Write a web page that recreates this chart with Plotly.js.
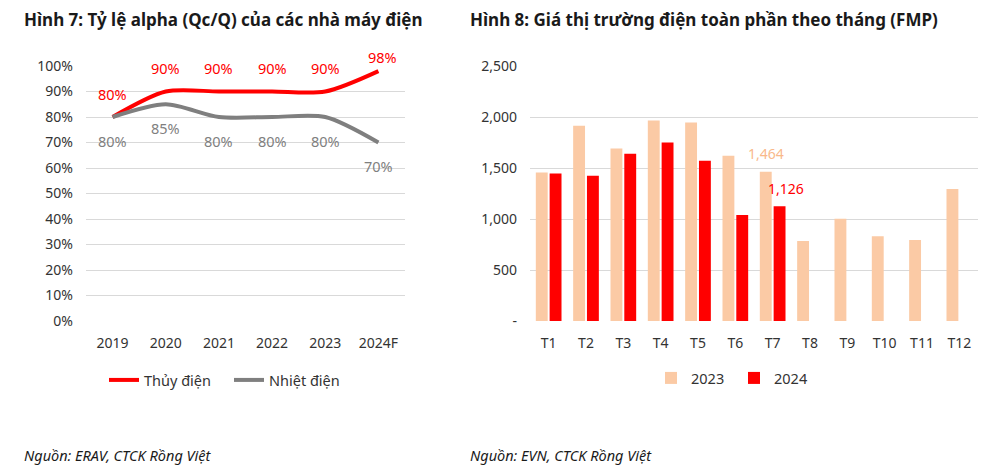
<!DOCTYPE html>
<html>
<head>
<meta charset="utf-8">
<script src="https://cdn.plot.ly/plotly-3.0.1.min.js"></script>
<style>
  html, body { margin: 0; padding: 0; background: #fff; }
  #chart { width: 991px; height: 468px; }
</style>
</head>
<body>
<div id="chart"></div>
<script>
// Hình 7 - alpha ratio
const years = ["2019", "2020", "2021", "2022", "2023", "2024F"];
const thuyDien = [0.80, 0.90, 0.90, 0.90, 0.90, 0.98];
const nhietDien = [0.80, 0.85, 0.80, 0.80, 0.80, 0.70];
const pctTicks = [0, 0.1, 0.2, 0.3, 0.4, 0.5, 0.6, 0.7, 0.8, 0.9, 1.0];
const pctTickText = ["0%", "10%", "20%", "30%", "40%", "50%", "60%", "70%", "80%", "90%", "100%"];

// Hình 8 - FMP by month
const months = ["T1", "T2", "T3", "T4", "T5", "T6", "T7", "T8", "T9", "T10", "T11", "T12"];
const fmp2023 = [1455, 1915, 1692, 1965, 1945, 1620, 1464, 785, 1002, 832, 795, 1295];
const fmp2024 = [1445, 1425, 1640, 1750, 1570, 1040, 1126];
const fmpTicks = [0, 500, 1000, 1500, 2000, 2500];
const fmpTickText = ["-", "500", "1,000", "1,500", "2,000", "2,500"];

const RED = "#ff0000";
const GRAY = "#7f7f7f";
const PEACH = "#fbcaa5";
const FONT = "Noto Sans, sans-serif";

const pct = v => Math.round(v * 100) + "%";

const traces = [
    {
        x: years, y: thuyDien,
        type: "scatter", mode: "lines",
        name: "Thủy điện",
        line: { color: RED, width: 4, shape: "spline", smoothing: 0.8 },
        xaxis: "x", yaxis: "y", legend: "legend",
        hoverinfo: "skip"
    },
    {
        x: years, y: nhietDien,
        type: "scatter", mode: "lines",
        name: "Nhiệt điện",
        line: { color: GRAY, width: 4, shape: "spline", smoothing: 0.8 },
        xaxis: "x", yaxis: "y", legend: "legend",
        hoverinfo: "skip"
    },
    {
        x: months, y: fmp2023,
        type: "bar", name: "2023",
        marker: { color: PEACH },
        xaxis: "x2", yaxis: "y2", legend: "legend2",
        hoverinfo: "skip"
    },
    {
        x: months.slice(0, fmp2024.length), y: fmp2024,
        type: "bar", name: "2024",
        marker: { color: RED },
        xaxis: "x2", yaxis: "y2", legend: "legend2",
        hoverinfo: "skip"
    }
];

// data labels for the line chart (x given as category index)
const annotations = [];
years.forEach((yr, i) => {
    const last = i === years.length - 1;
    annotations.push({
        x: i, y: thuyDien[i], xref: "x", yref: "y",
        text: pct(thuyDien[i]), showarrow: false,
        yshift: last ? 14 : 23, xshift: last ? 4 : 0,
        font: { family: FONT, size: 14.5, color: RED }
    });
    annotations.push({
        x: i, y: nhietDien[i], xref: "x", yref: "y",
        text: pct(nhietDien[i]), showarrow: false,
        yshift: -24,
        font: { family: FONT, size: 14.5, color: GRAY }
    });
});

// labels for the latest month
const lastIdx = fmp2024.length - 1;
annotations.push({
    x: lastIdx, y: fmp2023[lastIdx], xref: "x2", yref: "y2",
    text: fmp2023[lastIdx].toLocaleString("en-US"), showarrow: false,
    xshift: -7, yshift: 18,
    font: { family: FONT, size: 14, color: "#f9b98a" }
});
annotations.push({
    x: lastIdx, y: fmp2024[lastIdx], xref: "x2", yref: "y2",
    text: fmp2024[lastIdx].toLocaleString("en-US"), showarrow: false,
    xshift: 13, yshift: 18,
    font: { family: FONT, size: 14, color: RED }
});

// titles and sources
const titleFont = { family: FONT, size: 17, color: "#1a1a1a" };
const srcFont = { family: FONT, size: 14.5, color: "#1a1a1a" };
annotations.push(
    { xref: "paper", yref: "paper", x: 22 / 991, y: 1 - 20 / 468, xanchor: "left", yanchor: "middle",
      text: "<b>Hình 7: Tỷ lệ alpha (Qc/Q) của các nhà máy điện</b>", showarrow: false, font: titleFont },
    { xref: "paper", yref: "paper", x: 468 / 991, y: 1 - 20 / 468, xanchor: "left", yanchor: "middle",
      text: "<b>Hình 8: Giá thị trường điện toàn phần theo tháng (FMP)</b>", showarrow: false, font: titleFont },
    { xref: "paper", yref: "paper", x: 22 / 991, y: 1 - 455 / 468, xanchor: "left", yanchor: "middle",
      text: "<i>Nguồn: ERAV, CTCK Rồng Việt</i>", showarrow: false, font: srcFont },
    { xref: "paper", yref: "paper", x: 468 / 991, y: 1 - 455 / 468, xanchor: "left", yanchor: "middle",
      text: "<i>Nguồn: EVN, CTCK Rồng Việt</i>", showarrow: false, font: srcFont }
);

const yDomain = [1 - 321 / 468, 1 - 66 / 468];
const tickFont = { family: FONT, size: 14, color: "#333" };

const layout = {
    width: 991, height: 468,
    margin: { l: 0, r: 0, t: 0, b: 0 },
    paper_bgcolor: "#fff", plot_bgcolor: "#fff",
    font: { family: FONT },
    showlegend: true,
    barmode: "group",
    bargap: 0.26,
    bargroupgap: 0.14,
    xaxis: {
        domain: [86 / 991, 405 / 991], anchor: "y",
        type: "category", range: [-0.5, years.length - 0.5],
        showgrid: false, zeroline: false, showline: false,
        ticks: "", tickfont: tickFont, ticklabelstandoff: 12
    },
    yaxis: {
        domain: yDomain, anchor: "x",
        range: [0, 1.0],
        tickvals: pctTicks, ticktext: pctTickText,
        showgrid: true, gridcolor: "#d9d9d9", gridwidth: 1,
        zeroline: false, showline: false, ticks: "",
        tickfont: tickFont, ticklabelstandoff: 12
    },
    xaxis2: {
        domain: [530 / 991, 978 / 991], anchor: "y2",
        type: "category", range: [-0.5, months.length - 0.5],
        showgrid: false, zeroline: false, showline: false,
        ticks: "", tickfont: tickFont, ticklabelstandoff: 12
    },
    yaxis2: {
        domain: yDomain, anchor: "x2",
        range: [0, 2500],
        tickvals: fmpTicks, ticktext: fmpTickText,
        showgrid: true, gridcolor: "#d9d9d9", gridwidth: 1,
        zeroline: false, showline: false, ticks: "",
        tickfont: tickFont, ticklabelstandoff: 12
    },
    legend: {
        orientation: "h",
        x: 104 / 991, y: 1 - 380 / 468, xanchor: "left", yanchor: "middle",
        font: { family: FONT, size: 14.5, color: "#333" },
        bgcolor: "rgba(0,0,0,0)", itemwidth: 30, entrywidth: 80
    },
    legend2: {
        orientation: "h",
        x: 651 / 991, y: 1 - 378 / 468, xanchor: "left", yanchor: "middle",
        font: { family: FONT, size: 14.5, color: "#333" },
        bgcolor: "rgba(0,0,0,0)", itemwidth: 30, entrywidth: 38
    },
    annotations: annotations
};

Plotly.newPlot("chart", traces, layout, { staticPlot: true, displayModeBar: false });
</script>
</body>
</html>
